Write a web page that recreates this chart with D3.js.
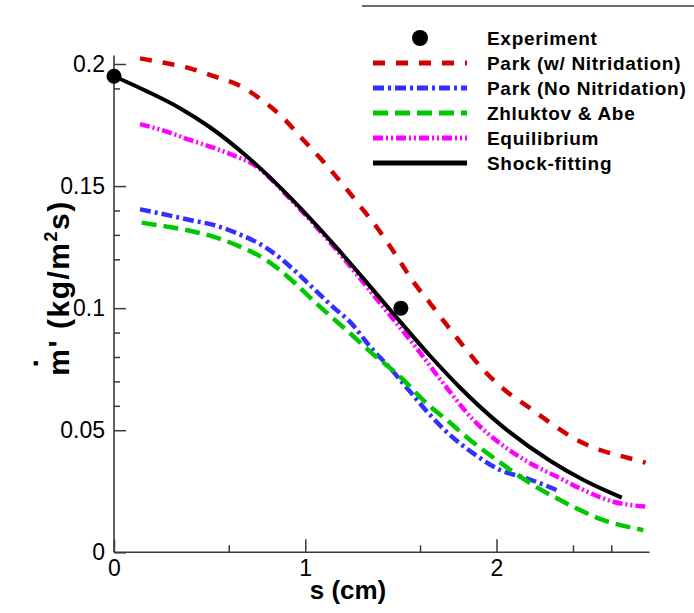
<!DOCTYPE html>
<html>
<head>
<meta charset="utf-8">
<script src="https://cdn.jsdelivr.net/npm/d3@7"></script>
<style>
  html, body { margin: 0; padding: 0; background: #fff; }
  svg { display: block; }
  text { font-family: "Liberation Sans", Arial, Helvetica, sans-serif; fill: #000; }
</style>
</head>
<body>
<svg id="chart" width="694" height="613"></svg>
<script>
// Surface mass-loss rate along the surface coordinate s
const expS = [0, 1.5];
const expM = [0.195, 0.1];

const parkNitS = [0.136, 0.276, 0.397, 0.528, 0.650, 0.772, 0.886, 0.990, 1.095, 1.199, 1.296, 1.391, 1.48, 1.565, 1.653, 1.740, 1.836, 1.940, 2.054, 2.176, 2.298, 2.420, 2.542, 2.664, 2.78];
const parkNitM = [0.2023, 0.2003, 0.1982, 0.1948, 0.1914, 0.1853, 0.1778, 0.1689, 0.1600, 0.1504, 0.1409, 0.1313, 0.1210, 0.1108, 0.1020, 0.0931, 0.0836, 0.0740, 0.0658, 0.0590, 0.0521, 0.0460, 0.0419, 0.0392, 0.0367];

const parkNoNitS = [0.136, 0.276, 0.397, 0.519, 0.642, 0.80, 0.95, 1.05, 1.156, 1.234, 1.339, 1.444, 1.548, 1.653, 1.757, 1.879, 2.019, 2.158, 2.315];
const parkNoNitM = [0.1405, 0.1382, 0.1361, 0.1341, 0.1307, 0.1245, 0.1150, 0.1075, 0.0997, 0.0944, 0.0842, 0.0754, 0.0658, 0.0562, 0.0480, 0.0405, 0.0337, 0.0303, 0.0255];

const zhluktovS = [0.145, 0.276, 0.397, 0.519, 0.65, 0.80, 0.95, 1.05, 1.15, 1.234, 1.339, 1.496, 1.635, 1.740, 1.862, 2.001, 2.176, 2.350, 2.559, 2.768];
const zhluktovM = [0.1350, 0.1334, 0.1317, 0.1293, 0.1255, 0.1195, 0.1100, 0.1025, 0.0955, 0.0897, 0.0822, 0.0719, 0.0610, 0.0542, 0.0460, 0.0378, 0.0283, 0.0207, 0.0132, 0.0091];

const equilS = [0.136, 0.276, 0.397, 0.528, 0.642, 0.72, 0.80, 0.90, 1.05, 1.20, 1.35, 1.47, 1.583, 1.722, 1.879, 2.019, 2.176, 2.315, 2.455, 2.611, 2.786];
const equilM = [0.1754, 0.1723, 0.1689, 0.1655, 0.1620, 0.1593, 0.1545, 0.1465, 0.1340, 0.1205, 0.1060, 0.0945, 0.0835, 0.0692, 0.0542, 0.0446, 0.0365, 0.0310, 0.0255, 0.0207, 0.0187];

const shockS = [0, 0.17, 0.345, 0.5, 0.7, 0.9, 1.15, 1.3, 1.46, 1.65, 1.81, 2.02, 2.28, 2.455, 2.655];
const shockM = [0.195, 0.1889, 0.1819, 0.1742, 0.1618, 0.1470, 0.1260, 0.1125, 0.0978, 0.0807, 0.0674, 0.0523, 0.0375, 0.0296, 0.0224];

const xMajorTicks = [0, 1, 2];
const xTickLabels = ["0", "1", "2"];
const xMinorTicks = [0.6, 1.6, 2.4, 2.6];
const yMajorTicks = [0, 0.05, 0.1, 0.15, 0.2];
const yTickLabels = ["0", "0.05", "0.1", "0.15", "0.2"];
const yMinorTicks = [0.06, 0.07, 0.08, 0.09, 0.12, 0.13, 0.14, 0.19];

const legendLabels = ["Experiment", "Park (w/ Nitridation)", "Park (No Nitridation)", "Zhluktov & Abe", "Equilibrium", "Shock-fitting"];

const svg = d3.select("#chart");
const x = d3.scaleLinear().domain([0, 2.8]).range([114, 649.5]);
const y = d3.scaleLinear().domain([0, 0.2]).range([552.3, 64]);
const axisColor = "#3a3a3a";

// Partial frame line above the legend
svg.append("line")
  .attr("x1", 362).attr("x2", 694).attr("y1", 6).attr("y2", 6)
  .attr("stroke", axisColor).attr("stroke-width", 1.6);

// Axes
const gx = svg.append("g").attr("transform", `translate(0,${y(0)})`);
gx.call(d3.axisBottom(x).tickValues(xMajorTicks).tickSize(-13).tickPadding(6)
  .tickFormat((d, i) => xTickLabels[i]));
gx.append("g").call(d3.axisBottom(x).tickValues(xMinorTicks).tickSize(-7).tickFormat(""));

const gy = svg.append("g").attr("transform", `translate(${x(0)},0)`);
gy.call(d3.axisLeft(y).tickValues(yMajorTicks).tickSize(-12).tickPadding(9)
  .tickFormat((d, i) => yTickLabels[i]));
gy.append("g").call(d3.axisLeft(y).tickValues(yMinorTicks).tickSize(-6).tickFormat(""));

svg.selectAll(".domain").remove();
svg.selectAll(".tick line").attr("stroke", axisColor).attr("stroke-width", 1.5);
gx.selectAll(".tick text").attr("font-size", 23).attr("font-family", "Liberation Sans, Arial, sans-serif");
gy.selectAll(".tick text").attr("font-size", 23).attr("font-family", "Liberation Sans, Arial, sans-serif");
gx.selectAll(".tick text").attr("dy", "0.75em");

// axis lines
svg.append("line").attr("x1", x(0)).attr("x2", x(2.8)).attr("y1", y(0)).attr("y2", y(0))
  .attr("stroke", axisColor).attr("stroke-width", 1.6);
svg.append("line").attr("x1", x(0)).attr("x2", x(0)).attr("y1", y(0)).attr("y2", y(0.2035))
  .attr("stroke", axisColor).attr("stroke-width", 1.6);

// Axis titles
svg.append("text")
  .attr("x", 348).attr("y", 599)
  .attr("text-anchor", "middle").attr("font-size", 26).attr("font-weight", "bold")
  .text("s (cm)");

const yt = svg.append("g").attr("transform", "translate(69,288) rotate(-90)");
const ytText = yt.append("text").attr("font-size", 30).attr("font-weight", "bold").attr("letter-spacing", 1.5);
ytText.append("tspan").text("m' (kg/m");
ytText.append("tspan").attr("font-size", 18).attr("dy", -12).text("2");
ytText.append("tspan").attr("dy", 12).text("s)");
const ytLen = ytText.node().getComputedTextLength();
ytText.attr("x", -ytLen / 2);
const mWidth = ytText.node().getSubStringLength(0, 1);
yt.append("text").attr("font-size", 30).attr("font-weight", "bold")
  .attr("x", -ytLen / 2 + mWidth / 2 - 1).attr("y", -23).attr("text-anchor", "middle")
  .text("\u00B7");

// Series curves
const series = [
  { s: parkNitS, m: parkNitM, color: "#d20000", width: 4.5, dash: "12,11" },
  { s: parkNoNitS, m: parkNoNitM, color: "#3030ff", width: 4.5, dash: "11,4,3,4" },
  { s: zhluktovS, m: zhluktovM, color: "#00c800", width: 4.5, dash: "15,7" },
  { s: equilS, m: equilM, color: "#ff00ff", width: 4.5, dash: "10,3,2,3,2,3" },
  { s: shockS, m: shockM, color: "#000000", width: 4, dash: null }
];
const line = d3.line().x(d => x(d[0])).y(d => y(d[1])).curve(d3.curveMonotoneX);

series.forEach(sr => {
  const pts = sr.s.map((v, i) => [v, sr.m[i]]);
  svg.append("path").datum(pts)
    .attr("d", line)
    .attr("fill", "none")
    .attr("stroke", sr.color)
    .attr("stroke-width", sr.width)
    .attr("stroke-dasharray", sr.dash)
    .attr("stroke-linejoin", "round");
});

// Experimental points
svg.selectAll("circle.exp").data(expS.map((v, i) => [v, expM[i]])).enter()
  .append("circle").attr("class", "exp")
  .attr("cx", d => x(d[0])).attr("cy", d => y(d[1])).attr("r", 7.5)
  .attr("fill", "#000");

// Legend
const lg = svg.append("g");
const rowY = i => 38 + i * 25;
lg.append("circle").attr("cx", 420).attr("cy", rowY(0)).attr("r", 8).attr("fill", "#000");
series.forEach((sr, i) => {
  lg.append("line")
    .attr("x1", 373).attr("x2", 467).attr("y1", rowY(i + 1)).attr("y2", rowY(i + 1))
    .attr("stroke", sr.color).attr("stroke-width", 5)
    .attr("stroke-dasharray", sr.dash);
});
legendLabels.forEach((t, i) => {
  lg.append("text").attr("x", 487).attr("y", rowY(i)).attr("dy", "0.36em")
    .attr("font-size", 19).attr("font-weight", "bold").attr("letter-spacing", 0.7)
    .text(t);
});
</script>
</body>
</html>
